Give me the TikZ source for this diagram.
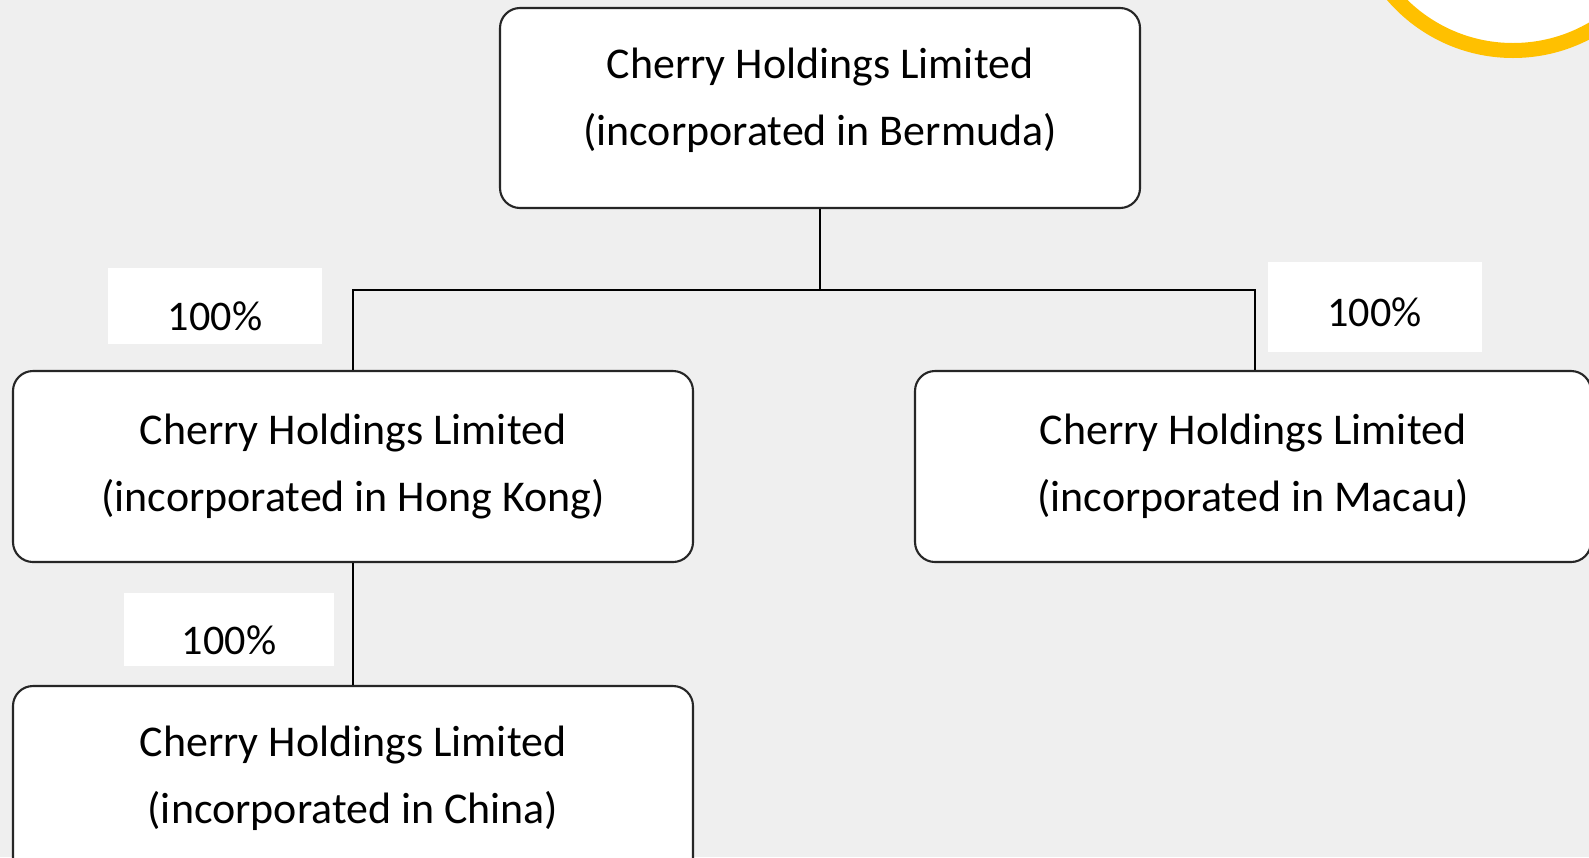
\documentclass[tikz,border=0pt]{standalone}
\usepackage{fontspec}
\setmainfont{Carlito}
\usepackage{xcolor}
\usetikzlibrary{calc}
\definecolor{bggray}{RGB}{239,239,239}
\definecolor{ringgold}{RGB}{255,192,0}

\begin{document}
\begin{tikzpicture}
							\tikzstyle{company} = [rectangle,rounded corners=0.2cm,fill=white,draw=black!85,line width=0.6pt,align=center,font=\fontsize{12.5}{19}\selectfont]
							\tikzstyle{share} = [rectangle,fill=white,draw=none,minimum width=2.14cm,minimum height=0.76cm,font=\fontsize{12}{14}\selectfont,text height=14pt,text depth=0pt]
							\tikzstyle{link} = [-,draw=black,line width=0.6pt]
							\useasboundingbox (0,0) rectangle (15.89,-8.57);
							\begin{scope}
							\clip (0,0) rectangle (15.89,-8.57);
							\fill[bggray] (0,0) rectangle (15.89,-8.57);
							\node[circle,fill=white,draw=ringgold,line width=0.15cm,minimum size=3.17cm] (ring) at (15.13,1.08) {};
							
							\node[company,minimum width=6.40cm,minimum height=2.00cm,text depth=6.5pt] (bermuda) at (8.20,-1.08) {Cherry Holdings Limited\\(incorporated in Bermuda)};
							\node[company,minimum width=6.80cm,minimum height=1.91cm] (hk) at (3.53,-4.665) {Cherry Holdings Limited\\(incorporated in Hong Kong)};
							\node[company,minimum width=6.76cm,minimum height=1.91cm] (macau) at (12.53,-4.665) {Cherry Holdings Limited\\(incorporated in Macau)};
							\node[company,minimum width=6.80cm,minimum height=1.94cm,text depth=4.5pt] (china) at (3.53,-7.83) {Cherry Holdings Limited\\(incorporated in China)};
							
							\node[share] (p1) at (2.15,-3.06) {100\%};
							\node[share,minimum height=0.90cm,text height=11pt] (p2) at (13.745,-3.07) {100\%};
							\node[share,minimum width=2.10cm,minimum height=0.73cm] (p3) at (2.29,-6.295) {100\%};
							
							\coordinate (split) at ($(bermuda.south)+(0,-0.81)$);
							\draw[link] (bermuda.south)--(split);
							\draw[link] (hk.north) |- (split);
							\draw[link] (split) -| ([xshift=0.02cm]macau.north);
							\draw[link] (hk.south)--(china.north);
							\end{scope}
							\end{tikzpicture}
\end{document}
